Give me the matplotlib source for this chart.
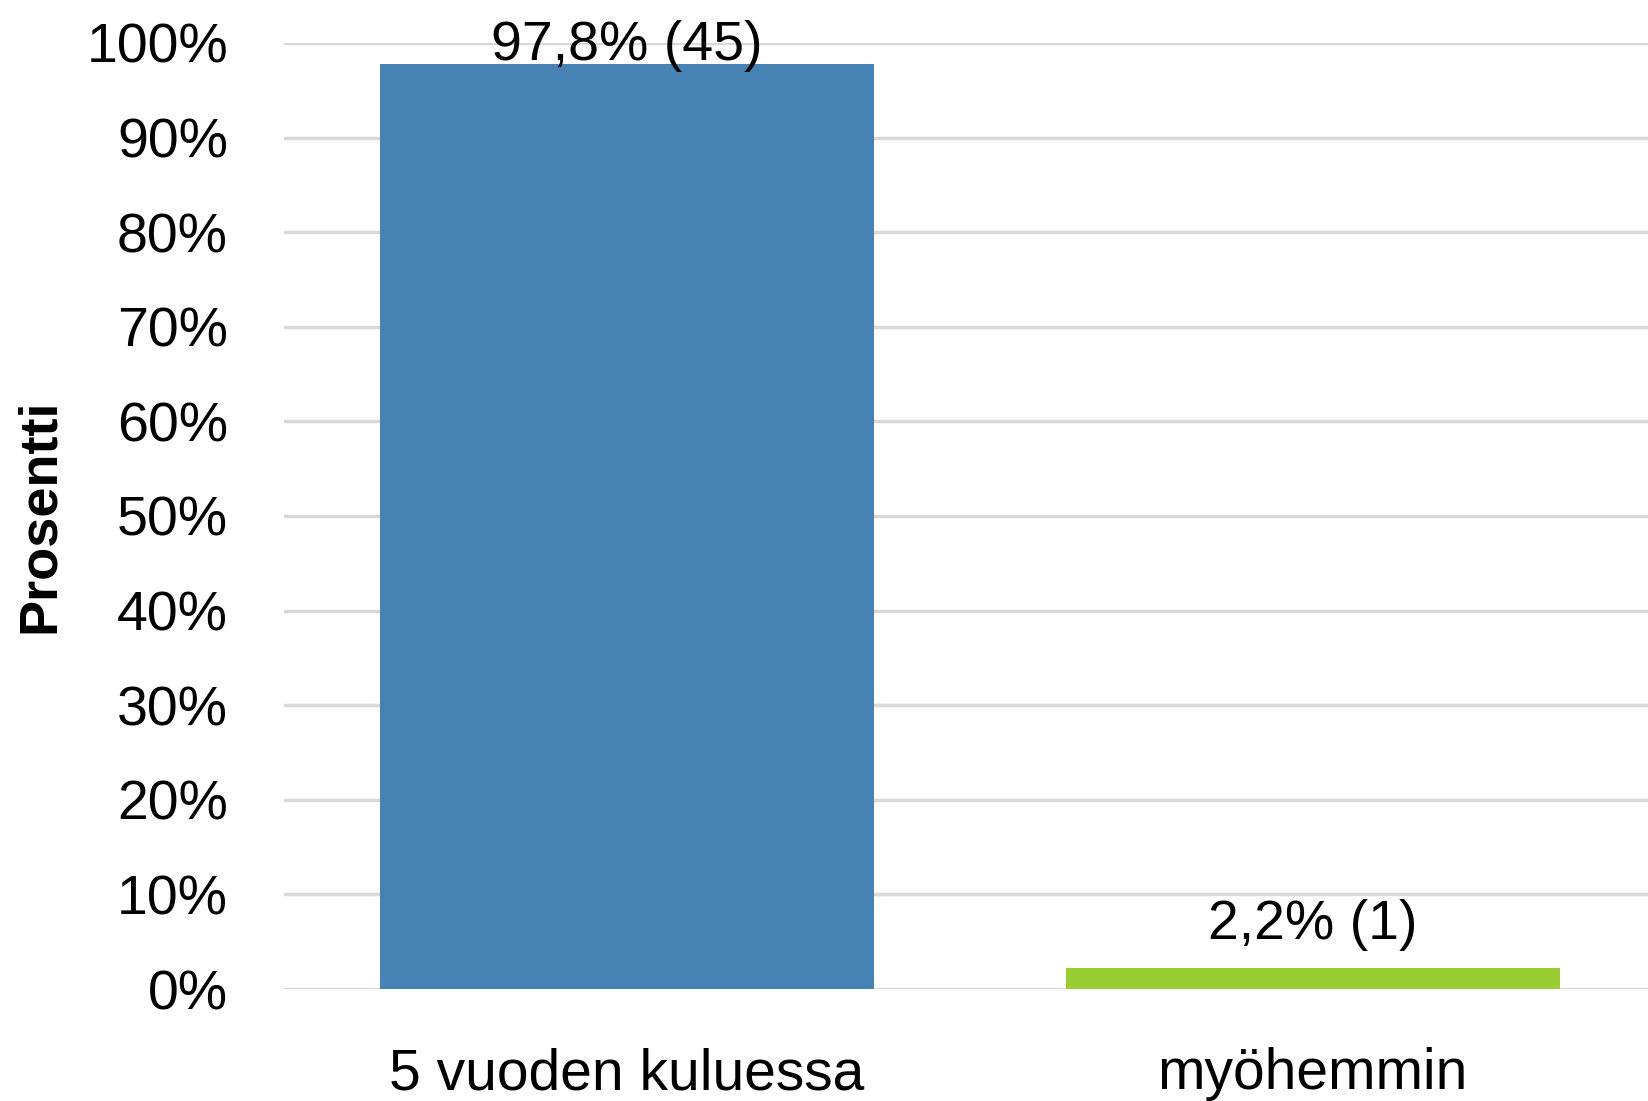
import matplotlib
matplotlib.use("Agg")
import matplotlib.pyplot as plt
from matplotlib.ticker import FuncFormatter

categories = ["5 vuoden kuluessa", "myöhemmin"]
percents = [97.8, 2.2]
counts = [45, 1]
colors = ["#4682B4", "#9ACD32"]
y_label = "Prosentti"

plt.rcParams["font.family"] = ["Liberation Sans", "DejaVu Sans"]

fig = plt.figure(figsize=(16.49, 11.01), dpi=100)
ax = fig.add_axes([0.172, 0.1017, 0.832, 0.8593])

x = range(len(categories))
bars = ax.bar(x, percents, width=0.72, color=colors, zorder=3)
ax.set_xlim(-0.5, 1.5)
ax.set_ylim(0, 100)
ax.set_yticks(range(0, 101, 10))
ax.yaxis.set_major_formatter(FuncFormatter(lambda v, p: f"{int(v)}%"))
ax.grid(axis="y", color="#d9d9d9", linewidth=2.5, zorder=0)
ax.set_axisbelow(True)
for s in ax.spines.values():
    s.set_visible(False)
ax.tick_params(axis="both", length=0, labelsize=40, colors="black")
ax.tick_params(axis="y", pad=40)
ax.tick_params(axis="x", pad=42)
ax.set_xticks(list(x))
ax.set_xticklabels(categories, fontsize=41)
ax.set_ylabel(y_label, fontsize=39, fontweight="bold")
ax.yaxis.label.set_va("center")
ax.yaxis.set_label_coords(-0.178, 0.5)

for b, p, c in zip(bars, percents, counts):
    lab = f"{p:.1f}".replace(".", ",") + f"% ({c})"
    ax.text(b.get_x() + b.get_width() / 2, min(p + 3.1, 98.2), lab, ha="center",
            va="baseline", fontsize=40, clip_on=False, zorder=4)

fig.savefig("out.png", dpi=100)
